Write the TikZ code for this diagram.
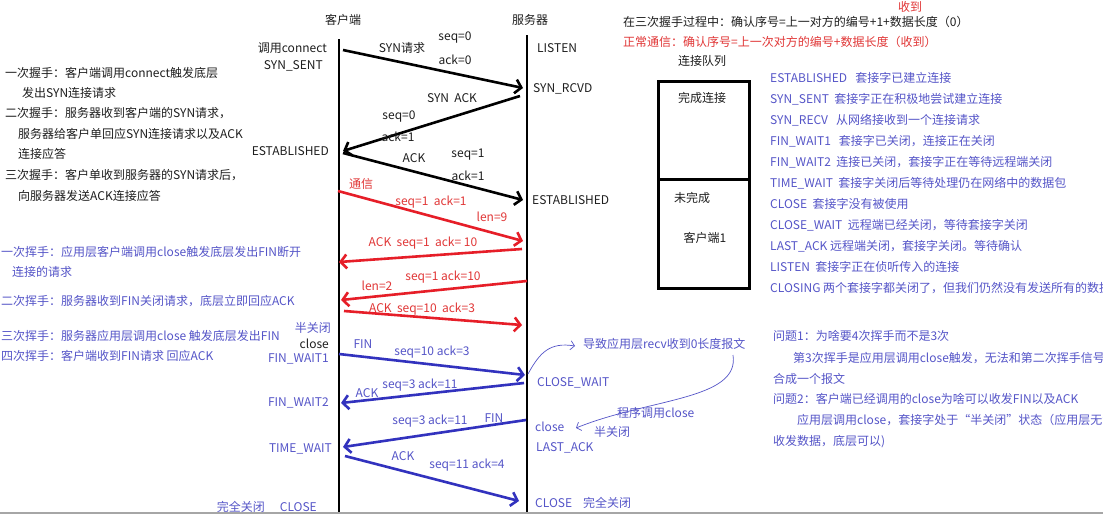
\documentclass[tikz,border=0pt]{standalone}
\usepackage{fontspec}
\setmainfont{Noto Sans CJK SC}
\usetikzlibrary{arrows.meta}
\definecolor{ink}{RGB}{30,30,30}
\definecolor{bluetxt}{RGB}{85,85,200}
\definecolor{bluearr}{RGB}{50,50,190}
\definecolor{redtxt}{RGB}{225,55,55}
\definecolor{redarr}{RGB}{230,30,40}
\tikzset{
  every node/.style={font=\fontsize{12}{14}\selectfont, inner sep=0pt, text=ink},
  wl/.style={anchor=west},
  el/.style={anchor=east},
  bt/.style={text=bluetxt},
  rt/.style={text=redtxt},
  lifeline/.style={line width=2.8pt, draw=black},
  msg/.style={line width=2.6pt, -{Straight Barb[length=6pt,width=14pt,line width=2.6pt]}},
  blkmsg/.style={msg, draw=black},
  redmsg/.style={msg, draw=redarr},
  bluemsg/.style={msg, draw=bluearr},
  note/.style={draw=bluetxt, line width=0.7pt, -{Straight Barb[length=4pt,width=9pt,line width=0.7pt]}},
  boxline/.style={draw=black, line width=3pt},
}
\begin{document}
\begin{tikzpicture}[x=1pt,y=-1pt]
\useasboundingbox (0,0) rectangle (1103,514);
\clip (0,0) rectangle (1103,514);
\fill[white] (0,0) rectangle (1103,514);

% headings and lifelines
\node (hc) at (343,20) {客户端};
\node (hs) at (530,20) {服务器};
\coordinate (ctop) at (339,39);
\coordinate (cbot) at (339,516);
\coordinate (stop) at (527,35);
\coordinate (sbot) at (527,516);
\draw[lifeline] (ctop) -- (cbot);
\draw[lifeline] (stop) -- (sbot);

% left explanation (handshake)
\node[wl] (h1a) at (5,73) {一次握手：客户端调用connect触发底层};
\node[wl] (h1b) at (22,93) {发出SYN连接请求};
\node[wl] (h2a) at (5,113) {二次握手：服务器收到客户端的SYN请求，};
\node[wl] (h2b) at (18,134) {服务器给客户单回应SYN连接请求以及ACK};
\node[wl] (h2c) at (18,154) {连接应答};
\node[wl] (h3a) at (5,175) {三次握手：客户单收到服务器的SYN请求后，};
\node[wl] (h3b) at (18,196) {向服务器发送ACK连接应答};

% left explanation (wave)
\node[wl,bt] (w1a) at (1,252) {一次挥手：应用层客户端调用close触发底层发出FIN断开};
\node[wl,bt] (w1b) at (12,272) {连接的请求};
\node[wl,bt] (w2) at (1,301) {二次挥手：服务器收到FIN关闭请求，底层立即回应ACK};
\node[wl,bt] (w3) at (1,336) {三次挥手：服务器应用层调用close 触发底层发出FIN};
\node[wl,bt] (w4) at (1,356) {四次挥手：客户端收到FIN请求 回应ACK};

% client states
\node[el] (cconn) at (327,48) {调用connect};
\node[el] (csent) at (323,66) {SYN\_SENT};
\node[el] (cest) at (329,151) {ESTABLISHED};
\node[el,bt] (chalf) at (331,328) {半关闭};
\node[el] (cclose) at (329,344) {close};
\node[el,bt] (cfw1) at (329,359) {FIN\_WAIT1};
\node[el,bt] (cfw2) at (329,403) {FIN\_WAIT2};
\node[el,bt] (ctw) at (332,449) {TIME\_WAIT};
\node[el,bt] (cfull) at (265,507) {完全关闭};
\node[el,bt] (ccl) at (317,507) {CLOSE};

% server states
\node[wl] (slisten) at (537,48) {LISTEN};
\node[wl] (srcvd) at (533,89) {SYN\_RCVD};
\node[wl] (sest) at (532,200) {ESTABLISHED};
\node[wl,bt] (scw) at (537,383) {CLOSE\_WAIT};
\node[wl,bt] (sclose) at (535,427) {close};
\node[wl,bt] (shalf) at (594,432) {半关闭};
\node[wl,bt] (sprog) at (617,413) {程序调用close};
\node[wl,bt] (sla) at (536,448) {LAST\_ACK};
\node[wl,bt] (scl) at (535,503) {CLOSE};
\node[wl,bt] (sfull) at (583,503) {完全关闭};
\node[wl,bt] (srecv) at (583,344) {导致应用层recv收到0长度报文};

% handshake arrows
\coordinate (a1s) at (343,50);  \coordinate (a1e) at (523,88);
\coordinate (a2s) at (520,96);  \coordinate (a2e) at (343,151);
\coordinate (a3s) at (343,153); \coordinate (a3e) at (523,200);
\draw[blkmsg] (a1s) -- (a1e);
\draw[blkmsg] (a2s) -- (a2e);
\draw[blkmsg] (a3s) -- (a3e);
\node (l1a) at (402,48) {SYN请求};
\node (l1b) at (455,38) {seq=0};
\node (l1c) at (455,60) {ack=0};
\node (l2a) at (452,98) {SYN\ \ ACK};
\node (l2b) at (399,117) {seq=0};
\node (l2c) at (398,137) {ack=1};
\node (l3a) at (414,158) {ACK};
\node (l3b) at (468,155) {seq=1};
\node (l3c) at (468,176) {ack=1};

% data transfer (red)
\node[rt] (comm) at (361,184) {通信};
\coordinate (r1s) at (338,191); \coordinate (r1e) at (523,241);
\coordinate (r2s) at (522,249); \coordinate (r2e) at (339,262);
\coordinate (r3s) at (527,281); \coordinate (r3e) at (341,300);
\coordinate (r4s) at (344,311); \coordinate (r4e) at (522,325);
\draw[redmsg] (r1s) -- (r1e);
\draw[redmsg] (r2s) -- (r2e);
\draw[redmsg] (r3s) -- (r3e);
\draw[redmsg] (r4s) -- (r4e);
\node[rt] (lr1a) at (431,202) {seq=1\ \ ack=1};
\node[rt] (lr1b) at (492,217) {len=9};
\node[rt] (lr2) at (423,243) {ACK\ \ seq=1\ \ ack= 10};
\node[rt] (lr3a) at (443,277) {seq=1 ack=10};
\node[rt] (lr3b) at (377,286) {len=2};
\node[rt] (lr4) at (422,309) {ACK\ \ seq=10\ \ ack=3};

% wave arrows (blue)
\coordinate (b1s) at (339,354); \coordinate (b1e) at (525,375);
\coordinate (b2s) at (524,383); \coordinate (b2e) at (341,403);
\coordinate (b3s) at (526,420); \coordinate (b3e) at (343,447);
\coordinate (b4s) at (345,456); \coordinate (b4e) at (519,501);
\draw[bluemsg] (b1s) -- (b1e);
\draw[bluemsg] (b2s) -- (b2e);
\draw[bluemsg] (b3s) -- (b3e);
\draw[bluemsg] (b4s) -- (b4e);
\node[bt] (lb1a) at (363,344) {FIN};
\node[bt] (lb1b) at (432,352) {seq=10 ack=3};
\node[bt] (lb2a) at (420,385) {seq=3 ack=11};
\node[bt] (lb2b) at (367,393) {ACK};
\node[bt] (lb3a) at (430,421) {seq=3 ack=11};
\node[bt] (lb3b) at (494,418) {FIN};
\node[bt] (lb4a) at (403,456) {ACK};
\node[bt] (lb4b) at (467,465) {seq=11 ack=4};

% thin annotation arrows
\coordinate (n1s) at (528,374); \coordinate (n1e) at (575,346);
\draw[note] (n1s) .. controls (540,352) and (550,342) .. (n1e);
\coordinate (n2s) at (733,355); \coordinate (n2e) at (576,428);
\draw[note] (n2s) .. controls (740,400) and (650,398) .. (n2e);

% top right formulas
\node[wl] (f1) at (623,22) {在三次握手过程中：确认序号=上一对方的编号+1+数据长度（0）};
\node[rt] (f1r) at (910,7) {收到};
\node[wl,rt] (f2) at (623,42) {正常通信：确认序号=上一次对方的编号+数据长度（收到）};

% connection queue
\node (qt) at (702,61) {连接队列};
\draw[boxline] (658,81) rectangle (749,288);
\draw[boxline] (658,179) -- (749,179);
\node (q1) at (702,98) {完成连接};
\node (q2) at (692,198) {未完成};
\node (q3) at (705,238) {客户端1};

% state list
\node[wl,bt] (s1) at (770,78) {ESTABLISHED\ \ \ 套接字已建立连接};
\node[wl,bt] (s2) at (770,99) {SYN\_SENT\ \ 套接字正在积极地尝试建立连接};
\node[wl,bt] (s3) at (770,120) {SYN\_RECV\ \ \ 从网络接收到一个连接请求};
\node[wl,bt] (s4) at (770,141) {FIN\_WAIT1\ \ \ 套接字已关闭，连接正在关闭};
\node[wl,bt] (s5) at (770,162) {FIN\_WAIT2\ \ 连接已关闭，套接字正在等待远程端关闭};
\node[wl,bt] (s6) at (770,183) {TIME\_WAIT\ \ 套接字关闭后等待处理仍在网络中的数据包};
\node[wl,bt] (s7) at (770,204) {CLOSE\ \ 套接字没有被使用};
\node[wl,bt] (s8) at (770,225) {CLOSE\_WAIT\ \ 远程端已经关闭，等待套接字关闭};
\node[wl,bt] (s9) at (770,246) {LAST\_ACK 远程端关闭，套接字关闭。等待确认};
\node[wl,bt] (s10) at (770,267) {LISTEN\ \ 套接字正在侦听传入的连接};
\node[wl,bt] (s11) at (770,288) {CLOSING 两个套接字都关闭了，但我们仍然没有发送所有的数据};

% questions
\node[wl,bt] (qa1) at (773,336) {问题1：为啥要4次挥手而不是3次};
\node[wl,bt] (qa2) at (793,358) {第3次挥手是应用层调用close触发，无法和第二次挥手信号};
\node[wl,bt] (qa3) at (773,379) {合成一个报文};
\node[wl,bt] (qb1) at (773,399) {问题2：客户端已经调用的close为啥可以收发FIN以及ACK};
\node[wl,bt] (qb2) at (797,420) {应用层调用close，套接字处于“半关闭”状态（应用层无法};
\node[wl,bt] (qb3) at (773,442) {收发数据，底层可以)};

% bottom border
\draw[gray!70, line width=2pt] (0,513) -- (1103,513);
\end{tikzpicture}
\end{document}
